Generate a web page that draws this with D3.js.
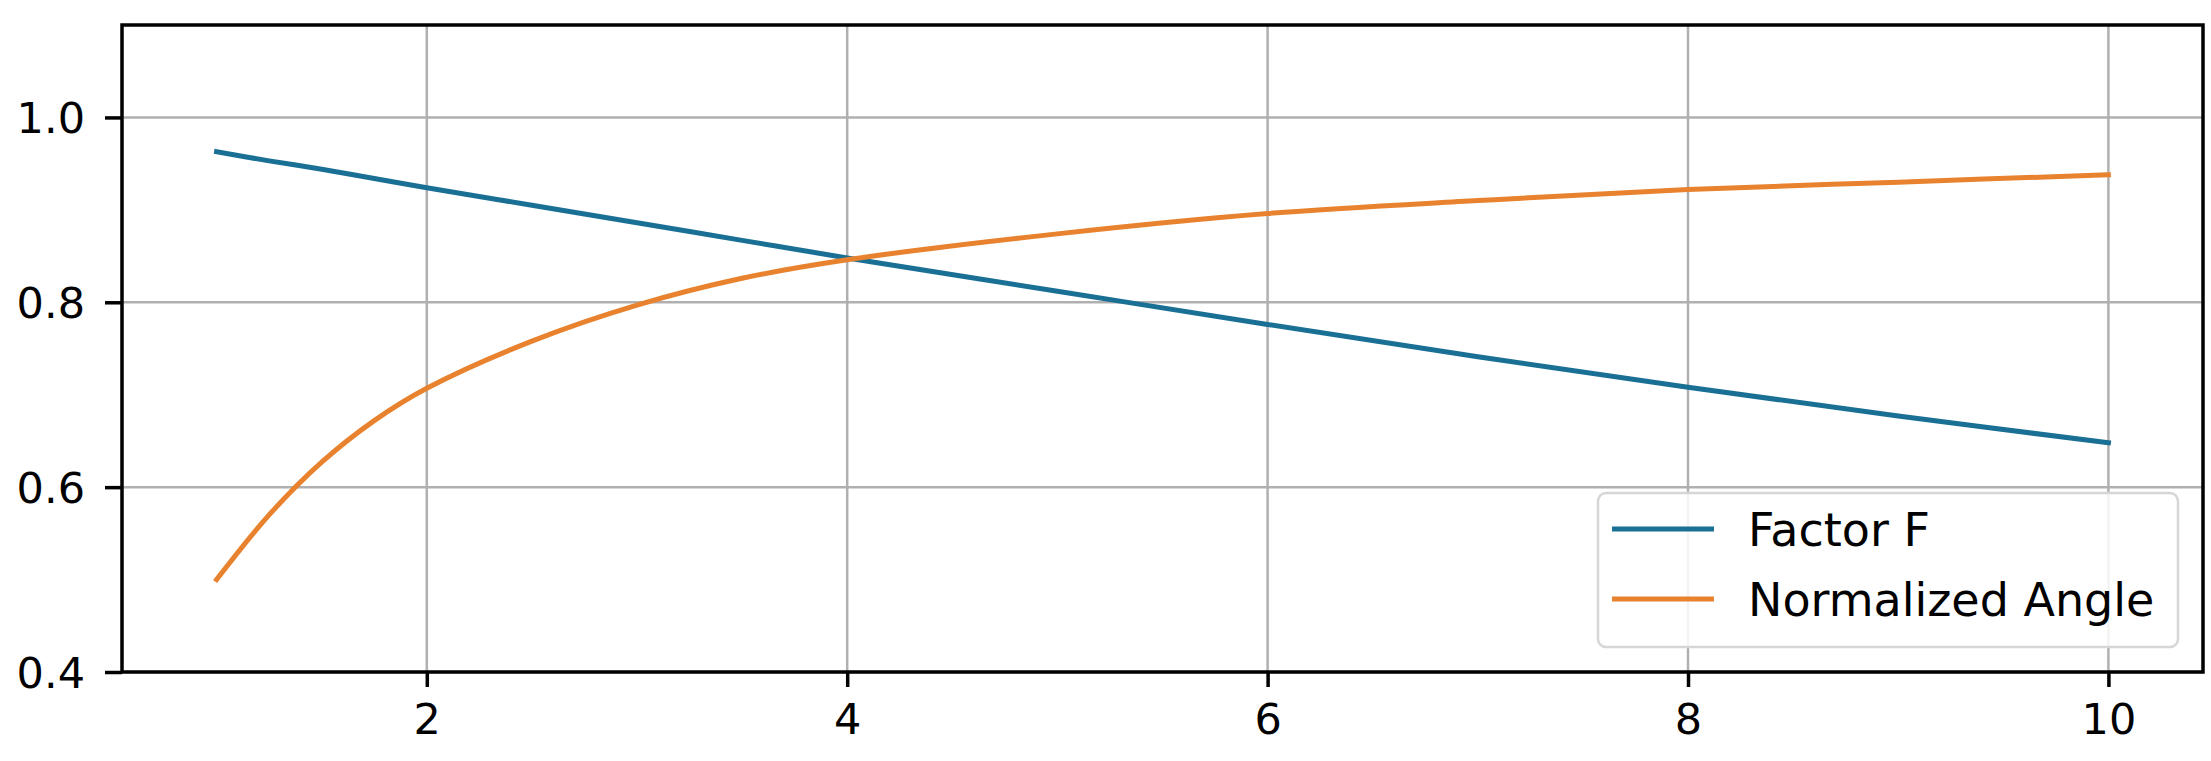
<!DOCTYPE html>
<html>
<head>
<meta charset="utf-8">
<script src="https://cdn.jsdelivr.net/npm/d3@7"></script>
<style>
  html, body { margin: 0; padding: 0; background: #ffffff; }
  svg { display: block; }
  text { font-family: "DejaVu Sans", sans-serif; fill: #000; }
</style>
</head>
<body>
<svg id="chart" width="2211" height="761"></svg>
<script>
// ---- data ----
const xValues = [1, 1.25, 1.5, 1.75, 2, 2.5, 3, 3.5, 4, 5, 6, 7, 8, 9, 10];
const factorF = [0.963, 0.953, 0.944, 0.934, 0.924, 0.905, 0.886, 0.867, 0.848, 0.812, 0.776, 0.741, 0.708, 0.677, 0.648];
const normalizedAngle = [0.500, 0.570, 0.627, 0.672, 0.707, 0.758, 0.797, 0.826, 0.846, 0.874, 0.896, 0.910, 0.922, 0.930, 0.938];
const seriesNames = ["Factor F", "Normalized Angle"];
const xTicks = [2, 4, 6, 8, 10];
const yTicks = [0.4, 0.6, 0.8, 1.0];
const xDomain = [0.55, 10.45];
const yDomain = [0.4, 1.1];

// ---- layout ----
const svg = d3.select("#chart");
const plot = { left: 122, right: 2203, top: 25, bottom: 672 };
const colors = ["#1a6f95", "#e8822e"];

const x = d3.scaleLinear().domain(xDomain).range([plot.left, plot.right]);
const y = d3.scaleLinear().domain(yDomain).range([plot.bottom, plot.top]);

// grid
const grid = svg.append("g");
grid.selectAll("line.vx").data(xTicks).join("line")
  .attr("x1", d => x(d)).attr("x2", d => x(d))
  .attr("y1", plot.top).attr("y2", plot.bottom)
  .attr("stroke", "#b0b0b0").attr("stroke-width", 2.5);
grid.selectAll("line.hy").data(yTicks).join("line")
  .attr("x1", plot.left).attr("x2", plot.right)
  .attr("y1", d => y(d)).attr("y2", d => y(d))
  .attr("stroke", "#b0b0b0").attr("stroke-width", 2.5);

// lines
const series = [factorF, normalizedAngle];
const line = d3.line()
  .x((d, i) => x(xValues[i]))
  .y(d => y(d))
  .curve(d3.curveCatmullRom.alpha(0.5));
svg.append("g").selectAll("path").data(series).join("path")
  .attr("d", d => line(d))
  .attr("fill", "none")
  .attr("stroke", (d, i) => colors[i])
  .attr("stroke-width", 5)
  .attr("stroke-linecap", "square");

// axes
const xAxis = d3.axisBottom(x).tickValues(xTicks).tickSize(15).tickPadding(16)
  .tickFormat(d3.format("d"));
const yAxis = d3.axisLeft(y).tickValues(yTicks).tickSize(17).tickPadding(20)
  .tickFormat(d3.format(".1f"));

const gx = svg.append("g").attr("transform", `translate(0,${plot.bottom})`).call(xAxis);
const gy = svg.append("g").attr("transform", `translate(${plot.left},0)`).call(yAxis);
[gx, gy].forEach(g => {
  g.select(".domain").remove();
  g.selectAll(".tick line").attr("stroke", "#000").attr("stroke-width", 3.5);
  g.selectAll(".tick text").attr("font-size", 43).attr("font-family", "DejaVu Sans").attr("fill", "#000");
});
gx.selectAll(".tick text").attr("dy", "0.71em");
gy.selectAll(".tick text").attr("dy", "0.36em");

// frame
svg.append("rect")
  .attr("x", plot.left).attr("y", plot.top)
  .attr("width", plot.right - plot.left).attr("height", plot.bottom - plot.top)
  .attr("fill", "none").attr("stroke", "#000").attr("stroke-width", 3.5);

// legend
const lg = svg.append("g");
lg.append("rect")
  .attr("x", 1598).attr("y", 493).attr("width", 580).attr("height", 154)
  .attr("rx", 8).attr("ry", 8)
  .attr("fill", "rgba(255,255,255,0.85)").attr("stroke", "#d6d6d6").attr("stroke-width", 2.5);
const rows = lg.selectAll("g.row").data(seriesNames).join("g")
  .attr("transform", (d, i) => `translate(0,${529 + i * 70})`);
rows.append("line")
  .attr("x1", 1612).attr("x2", 1714).attr("y1", 0).attr("y2", 0)
  .attr("stroke", (d, i) => colors[i]).attr("stroke-width", 5);
rows.append("text")
  .attr("x", 1748).attr("y", 0).attr("dy", "0.36em")
  .attr("font-size", 46)
  .text(d => d);
</script>
</body>
</html>
